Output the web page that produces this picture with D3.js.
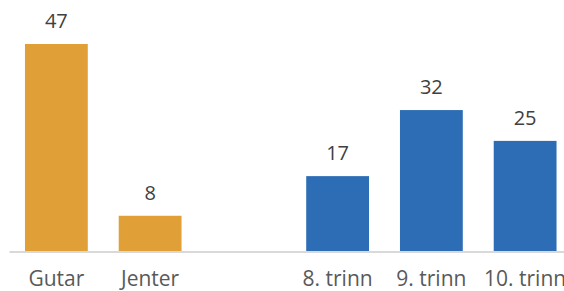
<!DOCTYPE html>
<html>
<head>
<meta charset="utf-8">
<script src="https://cdn.jsdelivr.net/npm/d3@7"></script>
<style>
  body { margin: 0; background: #fff; }
  svg { display: block; }
</style>
</head>
<body>
<script>
// data
var categories = ["Gutar", "Jenter", "", "8. trinn", "9. trinn", "10. trinn"];
var values = [47, 8, null, 17, 32, 25];
var groups = ["kjonn", "kjonn", "", "trinn", "trinn", "trinn"];

var w = 564, h = 291;
var base = 251;

var svg = d3.select("body").append("svg")
    .attr("width", w)
    .attr("height", h);

var x = d3.scaleBand()
    .domain(categories.map(function(d, i) { return i; }))
    .range([9.5, 572])
    .paddingInner(0.33)
    .paddingOuter(0.165);

var y = d3.scaleLinear()
    .domain([0, 47])
    .range([base, 44]);

var colour = { kjonn: "#E09F37", trinn: "#2C6DB5" };

var rows = categories.map(function(c, i) {
  return { cat: c, val: values[i], grp: groups[i], i: i };
}).filter(function(d) { return d.val != null; });

svg.selectAll("rect.bar")
   .data(rows)
   .enter()
   .append("rect")
   .attr("class", "bar")
   .attr("x", function(d) { return x(d.i); })
   .attr("y", function(d) { return y(d.val); })
   .attr("width", x.bandwidth())
   .attr("height", function(d) { return base - y(d.val); })
   .attr("fill", function(d) { return colour[d.grp]; });

// baseline
svg.append("line")
   .attr("x1", 9.5).attr("x2", w)
   .attr("y1", base + 1).attr("y2", base + 1)
   .attr("stroke", "#d9d9d9")
   .attr("stroke-width", 2);

// value labels
svg.selectAll("text.val")
   .data(rows)
   .enter()
   .append("text")
   .attr("class", "val")
   .text(function(d) { return d.val; })
   .attr("x", function(d) { return x(d.i) + x.bandwidth() / 2; })
   .attr("y", function(d) { return y(d.val) - 16; })
   .attr("font-family", "Open Sans, sans-serif")
   .attr("font-size", "20px")
   .attr("fill", "#404040")
   .attr("text-anchor", "middle");

// category labels
svg.selectAll("text.cat")
   .data(rows)
   .enter()
   .append("text")
   .attr("class", "cat")
   .text(function(d) { return d.cat; })
   .attr("x", function(d) { return x(d.i) + x.bandwidth() / 2; })
   .attr("y", 286)
   .attr("font-family", "Open Sans, sans-serif")
   .attr("font-size", "21px")
   .attr("fill", "#595959")
   .attr("text-anchor", "middle");
</script>
</body>
</html>
